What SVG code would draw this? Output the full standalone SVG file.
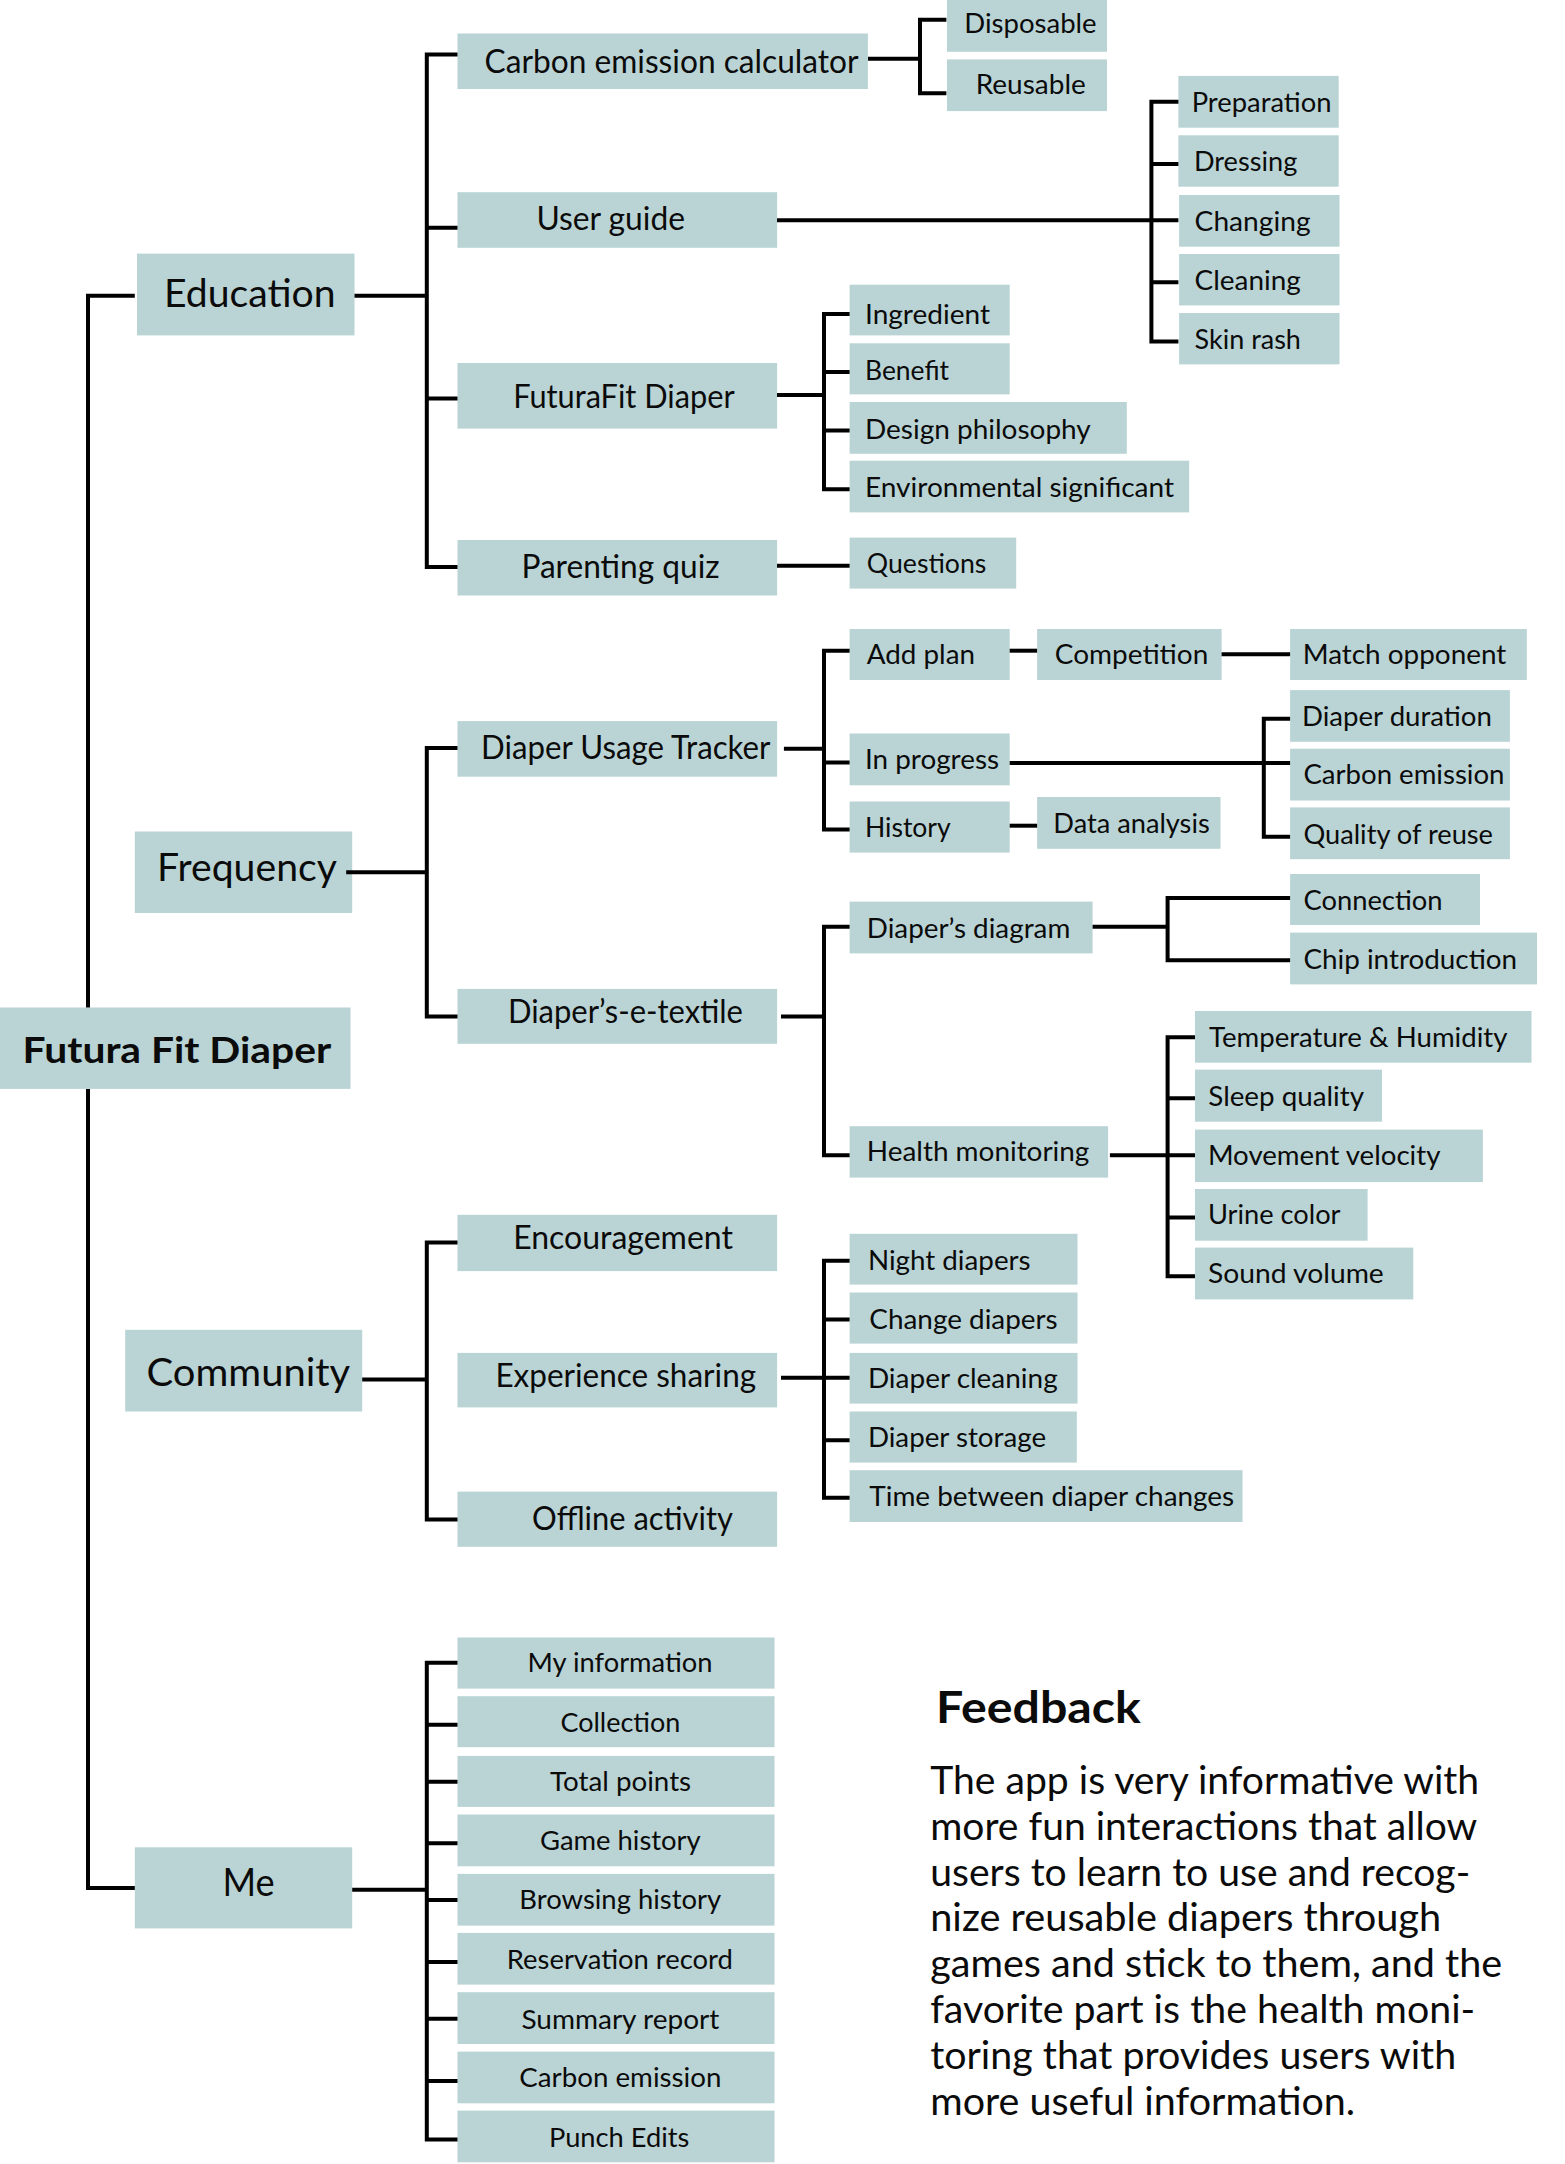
<svg xmlns="http://www.w3.org/2000/svg" width="1565" height="2164" viewBox="0 0 1565 2164">
<style>
.b{fill:#bad4d5}
text{font-family:Lato,"Liberation Sans",sans-serif;fill:#0b0b0b}
.r{font-size:37px;font-weight:bold}
.l1{font-size:38px}
.l2{font-size:32px}
.l3{font-size:27px}
.l4{font-size:26.5px}
.fh{font-size:44px;font-weight:bold}
.fb{font-size:38px}
.c{fill:none;stroke:#000;stroke-width:4}
</style>
<rect width="1565" height="2164" fill="#fff"/>
<g id="nodes">
<g id="root"><rect class="b" x="0" y="1007.5" width="350.5" height="81.4"/><text class="r" x="22.6" y="1062.7" textLength="308.6" lengthAdjust="spacingAndGlyphs">Futura Fit Diaper</text></g>
<g id="education"><rect class="b" x="137" y="253.6" width="217.5" height="81.8"/><text class="l1" x="164" y="307.1" textLength="171.6" lengthAdjust="spacingAndGlyphs">Education</text></g>
<g id="frequency"><rect class="b" x="134.8" y="831.5" width="217.4" height="81.5"/><text class="l1" x="157.1" y="880.9" textLength="179.8" lengthAdjust="spacingAndGlyphs">Frequency</text></g>
<g id="community"><rect class="b" x="125.2" y="1329.8" width="237" height="81.7"/><text class="l1" x="146.5" y="1386.3" textLength="203.7" lengthAdjust="spacingAndGlyphs">Community</text></g>
<g id="me"><rect class="b" x="134.8" y="1847.3" width="217.4" height="81.1"/><text class="l1" x="222.4" y="1896.3" textLength="52.2" lengthAdjust="spacingAndGlyphs">Me</text></g>

<g id="carbon-calc"><rect class="b" x="457.5" y="33.5" width="410.4" height="55.5"/><text class="l2" x="484.6" y="72.5" textLength="374" lengthAdjust="spacingAndGlyphs">Carbon emission calculator</text></g>
<g id="user-guide"><rect class="b" x="457.5" y="192.2" width="319.6" height="55.6"/><text class="l2" x="536.4" y="229.5" textLength="148.6" lengthAdjust="spacingAndGlyphs">User guide</text></g>
<g id="futurafit"><rect class="b" x="457.5" y="363" width="319.6" height="65.6"/><text class="l2" x="513.2" y="408.2" textLength="221.4" lengthAdjust="spacingAndGlyphs">FuturaFit Diaper</text></g>
<g id="parenting-quiz"><rect class="b" x="457.5" y="540" width="319.6" height="55.5"/><text class="l2" x="521.4" y="578.3" textLength="198.2" lengthAdjust="spacingAndGlyphs">Parenting quiz</text></g>
<g id="usage-tracker"><rect class="b" x="457.5" y="721.1" width="319.6" height="55.6"/><text class="l2" x="481.1" y="759.1" textLength="289.3" lengthAdjust="spacingAndGlyphs">Diaper Usage Tracker</text></g>
<g id="e-textile"><rect class="b" x="457.5" y="988.9" width="319.6" height="54.9"/><text class="l2" x="507.9" y="1023.4" textLength="235" lengthAdjust="spacingAndGlyphs">Diaper’s-e-textile</text></g>
<g id="encouragement"><rect class="b" x="457.5" y="1214.8" width="319.6" height="56.3"/><text class="l2" x="513.2" y="1249.4" textLength="219.7" lengthAdjust="spacingAndGlyphs">Encouragement</text></g>
<g id="experience"><rect class="b" x="457.5" y="1352.9" width="319.6" height="54.5"/><text class="l2" x="495.4" y="1387.4" textLength="260.7" lengthAdjust="spacingAndGlyphs">Experience sharing</text></g>
<g id="offline"><rect class="b" x="457.5" y="1491.6" width="319.6" height="55.2"/><text class="l2" x="532.1" y="1529.9" textLength="200.8" lengthAdjust="spacingAndGlyphs">Offline activity</text></g>

<g id="disposable"><rect class="b" x="947" y="0" width="160" height="51.8"/><text class="l3" x="964.3" y="32.8" textLength="132.3" lengthAdjust="spacingAndGlyphs">Disposable</text></g>
<g id="reusable"><rect class="b" x="947" y="59.4" width="160" height="51.7"/><text class="l3" x="975.7" y="93.9" textLength="110.1" lengthAdjust="spacingAndGlyphs">Reusable</text></g>
<g id="preparation"><rect class="b" x="1178.4" y="75.9" width="160.3" height="51.8"/><text class="l3" x="1191.7" y="112.1" textLength="139.8" lengthAdjust="spacingAndGlyphs">Preparation</text></g>
<g id="dressing"><rect class="b" x="1178.4" y="135.3" width="160.3" height="51.4"/><text class="l3" x="1193.9" y="170.8" textLength="103.4" lengthAdjust="spacingAndGlyphs">Dressing</text></g>
<g id="changing"><rect class="b" x="1179.1" y="195" width="160.4" height="51.7"/><text class="l3" x="1194.6" y="230.5" textLength="116" lengthAdjust="spacingAndGlyphs">Changing</text></g>
<g id="cleaning"><rect class="b" x="1179.1" y="254" width="160.4" height="51.4"/><text class="l3" x="1194.6" y="289.9" textLength="106.3" lengthAdjust="spacingAndGlyphs">Cleaning</text></g>
<g id="skin-rash"><rect class="b" x="1179.1" y="313" width="160.4" height="51.4"/><text class="l3" x="1194.6" y="349.2" textLength="106.3" lengthAdjust="spacingAndGlyphs">Skin rash</text></g>
<g id="ingredient"><rect class="b" x="849.6" y="284.7" width="160.1" height="50.7"/><text class="l3" x="865" y="324.4" textLength="125" lengthAdjust="spacingAndGlyphs">Ingredient</text></g>
<g id="benefit"><rect class="b" x="849.6" y="343.3" width="160.1" height="51.1"/><text class="l3" x="865" y="379.6" textLength="84" lengthAdjust="spacingAndGlyphs">Benefit</text></g>
<g id="design"><rect class="b" x="849.6" y="402" width="277.2" height="51.8"/><text class="l3" x="865" y="438.9" textLength="225.8" lengthAdjust="spacingAndGlyphs">Design philosophy</text></g>
<g id="environmental"><rect class="b" x="849.6" y="460.7" width="339.6" height="51.7"/><text class="l3" x="865" y="496.9" textLength="309" lengthAdjust="spacingAndGlyphs">Environmental significant</text></g>
<g id="questions"><rect class="b" x="849.6" y="537.6" width="166.6" height="51"/><text class="l3" x="866.8" y="572.7" textLength="119.6" lengthAdjust="spacingAndGlyphs">Questions</text></g>
<g id="add-plan"><rect class="b" x="849.6" y="629" width="160.1" height="51"/><text class="l3" x="866.8" y="663.5" textLength="108.2" lengthAdjust="spacingAndGlyphs">Add plan</text></g>
<g id="competition"><rect class="b" x="1037.1" y="629" width="184.5" height="51"/><text class="l3" x="1054.8" y="663.5" textLength="153.5" lengthAdjust="spacingAndGlyphs">Competition</text></g>
<g id="match"><rect class="b" x="1290.1" y="629" width="236.7" height="51"/><text class="l3" x="1302.7" y="663.5" textLength="203.6" lengthAdjust="spacingAndGlyphs">Match opponent</text></g>
<g id="in-progress"><rect class="b" x="849.6" y="733.5" width="160.1" height="51.8"/><text class="l3" x="865" y="768.7" textLength="134" lengthAdjust="spacingAndGlyphs">In progress</text></g>
<g id="history"><rect class="b" x="849.6" y="801.5" width="160.1" height="51.1"/><text class="l3" x="865" y="837.1" textLength="85.7" lengthAdjust="spacingAndGlyphs">History</text></g>
<g id="data-analysis"><rect class="b" x="1037.1" y="797" width="183.4" height="51.8"/><text class="l3" x="1053.3" y="832.6" textLength="156.4" lengthAdjust="spacingAndGlyphs">Data analysis</text></g>
<g id="diaper-duration"><rect class="b" x="1290.1" y="690.1" width="219.8" height="51.7"/><text class="l3" x="1302" y="725.6" textLength="189.9" lengthAdjust="spacingAndGlyphs">Diaper duration</text></g>
<g id="carbon-emission-f"><rect class="b" x="1290.1" y="748.7" width="219.8" height="51.8"/><text class="l3" x="1303.4" y="784.3" textLength="201.1" lengthAdjust="spacingAndGlyphs">Carbon emission</text></g>
<g id="quality"><rect class="b" x="1290.1" y="807.4" width="219.8" height="51.8"/><text class="l3" x="1303.4" y="844" textLength="189.6" lengthAdjust="spacingAndGlyphs">Quality of reuse</text></g>
<g id="diagram"><rect class="b" x="849.6" y="901.6" width="243" height="51.8"/><text class="l3" x="866.8" y="937.8" textLength="203.5" lengthAdjust="spacingAndGlyphs">Diaper’s diagram</text></g>
<g id="connection"><rect class="b" x="1290.1" y="874" width="189.9" height="51"/><text class="l3" x="1303.4" y="910.2" textLength="139.1" lengthAdjust="spacingAndGlyphs">Connection</text></g>
<g id="chip"><rect class="b" x="1290.1" y="932.6" width="246.9" height="51.8"/><text class="l3" x="1303.4" y="968.9" textLength="213.7" lengthAdjust="spacingAndGlyphs">Chip introduction</text></g>
<g id="health"><rect class="b" x="849.6" y="1126.2" width="258.5" height="51.4"/><text class="l3" x="866.8" y="1161.4" textLength="222.6" lengthAdjust="spacingAndGlyphs">Health monitoring</text></g>
<g id="temperature"><rect class="b" x="1195" y="1011" width="336.5" height="51.7"/><text class="l3" x="1209" y="1046.5" textLength="298.4" lengthAdjust="spacingAndGlyphs">Temperature &amp; Humidity</text></g>
<g id="sleep"><rect class="b" x="1195" y="1069.6" width="187" height="52.1"/><text class="l3" x="1208.3" y="1106.2" textLength="155.7" lengthAdjust="spacingAndGlyphs">Sleep quality</text></g>
<g id="movement"><rect class="b" x="1195" y="1129.6" width="287.9" height="52.5"/><text class="l3" x="1207.9" y="1164.8" textLength="232.5" lengthAdjust="spacingAndGlyphs">Movement velocity</text></g>
<g id="urine"><rect class="b" x="1195" y="1189" width="172.6" height="51.7"/><text class="l3" x="1207.9" y="1224.2" textLength="132.6" lengthAdjust="spacingAndGlyphs">Urine color</text></g>
<g id="sound"><rect class="b" x="1195" y="1247.6" width="218.3" height="51.8"/><text class="l3" x="1207.9" y="1283.2" textLength="175.9" lengthAdjust="spacingAndGlyphs">Sound volume</text></g>
<g id="night"><rect class="b" x="849.6" y="1233.8" width="227.9" height="50.8"/><text class="l3" x="867.9" y="1270.1" textLength="162.7" lengthAdjust="spacingAndGlyphs">Night diapers</text></g>
<g id="change"><rect class="b" x="849.6" y="1292.5" width="227.9" height="51.1"/><text class="l3" x="869.3" y="1328.7" textLength="188.4" lengthAdjust="spacingAndGlyphs">Change diapers</text></g>
<g id="diaper-cleaning"><rect class="b" x="849.6" y="1352.9" width="227.9" height="50.7"/><text class="l3" x="867.9" y="1388.4" textLength="189.8" lengthAdjust="spacingAndGlyphs">Diaper cleaning</text></g>
<g id="storage"><rect class="b" x="849.6" y="1411.5" width="227.2" height="51.1"/><text class="l3" x="867.9" y="1447.1" textLength="178.2" lengthAdjust="spacingAndGlyphs">Diaper storage</text></g>
<g id="time-between"><rect class="b" x="849.6" y="1470.2" width="392.9" height="51.8"/><text class="l3" x="869.3" y="1505.7" textLength="364.9" lengthAdjust="spacingAndGlyphs">Time between diaper changes</text></g>

<g id="my-information"><rect class="b" x="457.5" y="1637.5" width="317" height="51.1"/><text class="l4" x="527.5" y="1672.3" textLength="185" lengthAdjust="spacingAndGlyphs">My information</text></g>
<g id="collection"><rect class="b" x="457.5" y="1696.2" width="317" height="51"/><text class="l4" x="560.4" y="1731.7" textLength="120" lengthAdjust="spacingAndGlyphs">Collection</text></g>
<g id="total-points"><rect class="b" x="457.5" y="1755.9" width="317" height="51"/><text class="l4" x="550" y="1791" textLength="141.1" lengthAdjust="spacingAndGlyphs">Total points</text></g>
<g id="game-history"><rect class="b" x="457.5" y="1814.5" width="317" height="51.8"/><text class="l4" x="540" y="1850.1" textLength="160.7" lengthAdjust="spacingAndGlyphs">Game history</text></g>
<g id="browsing-history"><rect class="b" x="457.5" y="1873.9" width="317" height="51.7"/><text class="l4" x="519.3" y="1909.4" textLength="201.8" lengthAdjust="spacingAndGlyphs">Browsing history</text></g>
<g id="reservation"><rect class="b" x="457.5" y="1932.9" width="317" height="51.7"/><text class="l4" x="506.8" y="1968.8" textLength="226.1" lengthAdjust="spacingAndGlyphs">Reservation record</text></g>
<g id="summary"><rect class="b" x="457.5" y="1992.2" width="317" height="51.8"/><text class="l4" x="521.4" y="2028.5" textLength="197.9" lengthAdjust="spacingAndGlyphs">Summary report</text></g>
<g id="carbon-emission-me"><rect class="b" x="457.5" y="2051.6" width="317" height="51.7"/><text class="l4" x="519.3" y="2087.1" textLength="202.1" lengthAdjust="spacingAndGlyphs">Carbon emission</text></g>
<g id="punch-edits"><rect class="b" x="457.5" y="2110.6" width="317" height="51.7"/><text class="l4" x="548.9" y="2146.5" textLength="140.4" lengthAdjust="spacingAndGlyphs">Punch Edits</text></g>
</g>

<g id="connectors" class="c">
<path d="M134.8,295.7H88V1007.5"/>
<path d="M88,1088.9V1888H134.8"/>
<path d="M354.5,295.7H426.8"/>
<path d="M457.5,54.5H426.8V566.9H457.5M426.8,227.7H457.5M426.8,398.6H457.5"/>
<path d="M868,58.7H920"/>
<path d="M946.4,19.7H920V93.2H946.4"/>
<path d="M777,220.2H1178.4"/>
<path d="M1178.4,101.8H1151.4V341.6H1178.4M1151.4,163.9H1178.4M1151.4,282.3H1178.4"/>
<path d="M777,395.1H824"/>
<path d="M849.6,314H824V489.3H849.6M824,372H849.6M824,430.6H849.6"/>
<path d="M777,565.8H849.6"/>
<path d="M346.2,872.3H426.8"/>
<path d="M457.5,748H426.8V1016.5H457.5"/>
<path d="M783.9,748.7H824"/>
<path d="M849.6,650.7H824V829.5H849.6M824,762.5H849.6"/>
<path d="M1009.7,650.7H1037.1"/>
<path d="M1221.6,654.2H1290.1"/>
<path d="M1009.7,762.9H1290.1"/>
<path d="M1290.1,718.7H1263.8V836.7H1290.1"/>
<path d="M1009.7,825.7H1037.1"/>
<path d="M781,1016.5H824"/>
<path d="M849.6,926.8H824V1155.2H849.6"/>
<path d="M1092.6,926.8H1167.6"/>
<path d="M1290.1,898.1H1167.6V960.3H1290.1"/>
<path d="M1109.9,1155.2H1195"/>
<path d="M1195,1037.2H1167.6V1276.3H1195M1167.6,1098.2H1195M1167.6,1217.6H1195"/>
<path d="M362.2,1379.5H426.8"/>
<path d="M457.5,1242.5H426.8V1519.5H457.5"/>
<path d="M781,1377.7H849.6"/>
<path d="M849.6,1260.7H824V1497.8H849.6M824,1319.4H849.6M824,1440.2H849.6"/>
<path d="M352.2,1889.7H426.8"/>
<path d="M457.5,1662.7H426.8V2139.6H457.5M426.8,1724.8H457.5M426.8,1781.7H457.5M426.8,1843.2H457.5M426.8,1900.1H457.5M426.8,1961.9H457.5M426.8,2018.8H457.5M426.8,2080.9H457.5"/>
</g>

<g id="feedback">
<text class="fh" x="935.9" y="1723.1" textLength="205" lengthAdjust="spacingAndGlyphs">Feedback</text>
<text class="fb" x="930.2" y="1793.8" textLength="549" lengthAdjust="spacingAndGlyphs">The app is very informative with</text>
<text class="fb" x="930.2" y="1839.6" textLength="547" lengthAdjust="spacingAndGlyphs">more fun interactions that allow</text>
<text class="fb" x="930.2" y="1885.5" textLength="540" lengthAdjust="spacingAndGlyphs">users to learn to use and recog-</text>
<text class="fb" x="930.2" y="1931.3" textLength="511" lengthAdjust="spacingAndGlyphs">nize reusable diapers through</text>
<text class="fb" x="930.2" y="1977.2" textLength="572" lengthAdjust="spacingAndGlyphs">games and stick to them, and the</text>
<text class="fb" x="930.2" y="2023" textLength="545" lengthAdjust="spacingAndGlyphs">favorite part is the health moni-</text>
<text class="fb" x="930.2" y="2068.8" textLength="526" lengthAdjust="spacingAndGlyphs">toring that provides users with</text>
<text class="fb" x="930.2" y="2114.7" textLength="425" lengthAdjust="spacingAndGlyphs">more useful information.</text>
</g>
</svg>
